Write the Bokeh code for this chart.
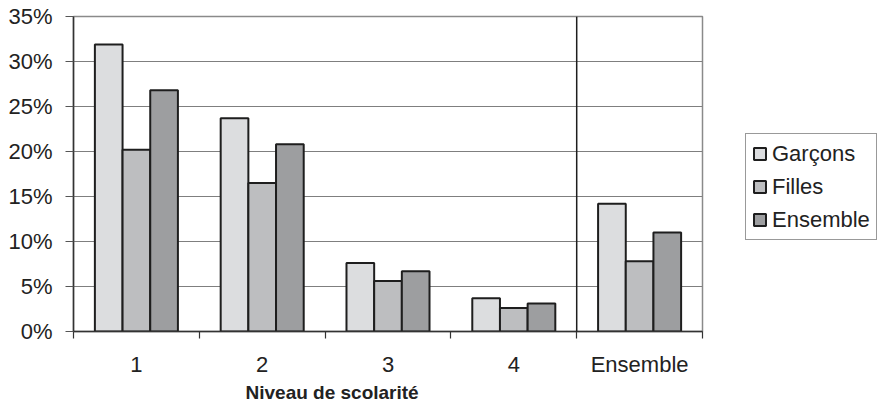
from bokeh.plotting import figure
from bokeh.models import (Range1d, FixedTicker, LinearAxis, PrintfTickFormatter, Span,
                          Legend, LegendItem, Title, ColumnDataSource)
from bokeh.embed import file_html
from bokeh.resources import INLINE

categories = ["1", "2", "3", "4", "Ensemble"]
garcons = [31.9, 23.7, 7.6, 3.7, 14.2]
filles = [20.2, 16.5, 5.6, 2.6, 7.8]
ensemble = [26.8, 20.8, 6.7, 3.1, 11.0]
series_names = ["Garçons", "Filles", "Ensemble"]
y_ticks = [0, 5, 10, 15, 20, 25, 30, 35]

FONT = "Liberation Sans"
colors = ["#dcdddf", "#bdbec0", "#9d9ea0"]

n = len(categories)
centers = [i + 0.5 for i in range(n)]
bounds = list(range(n + 1))

p = figure(frame_width=629, frame_height=315, output_backend="svg", toolbar_location=None,
           x_range=Range1d(0, n), y_range=Range1d(0, 35), x_axis_type=None,
           min_border_left=73, min_border_right=178, min_border_top=16, min_border_bottom=70,
           background_fill_color="white", border_fill_color="white")

p.outline_line_color = "#8a8a8a"
p.outline_line_width = 1.5
p.xgrid.visible = False
p.ygrid.ticker = FixedTicker(ticks=y_ticks)
p.ygrid.grid_line_color = "#7f7f7f"
p.ygrid.grid_line_width = 1.2

yax = p.yaxis[0]
yax.ticker = FixedTicker(ticks=y_ticks)
yax.formatter = PrintfTickFormatter(format="%d%%")
yax.major_label_text_font = FONT
yax.major_label_text_font_size = "22px"
yax.major_label_text_color = "#222222"
yax.major_label_standoff = 13
yax.major_tick_out = 8
yax.major_tick_in = 0
yax.minor_tick_line_color = None
yax.axis_line_color = "#333333"
yax.axis_line_width = 1.5
yax.major_tick_line_color = "#555555"

# axis with boundary ticks (no labels)
ax1 = LinearAxis(ticker=FixedTicker(ticks=bounds))
ax1.major_label_overrides = {b: "" for b in bounds}
ax1.major_label_text_font_size = "1px"
ax1.major_label_standoff = 0
ax1.major_tick_out = 7
ax1.major_tick_in = 0
ax1.minor_tick_line_color = None
ax1.axis_line_color = "#333333"
ax1.axis_line_width = 1.5
ax1.major_tick_line_color = "#333333"
ax1.major_tick_line_width = 1.2
p.add_layout(ax1, "below")

# axis with category labels
ax2 = LinearAxis(ticker=FixedTicker(ticks=centers))
ax2.major_label_overrides = {c: lab for c, lab in zip(centers, categories)}
ax2.major_label_text_font = FONT
ax2.major_label_text_font_size = "22px"
ax2.major_label_text_color = "#222222"
ax2.major_label_standoff = 13
ax2.major_tick_out = 0
ax2.major_tick_in = 0
ax2.major_tick_line_color = None
ax2.minor_tick_line_color = None
ax2.axis_line_color = None
p.add_layout(ax2, "below")

p.add_layout(Title(text="Niveau de scolarité", align="left", offset=172, standoff=0,
                   text_font=FONT, text_font_size="19px", text_font_style="bold",
                   text_color="#222222"), "below")

offsets = [-0.22, 0.0, 0.22]
renderers = []
for vals, off, col in zip([garcons, filles, ensemble], offsets, colors):
    src = ColumnDataSource(dict(x=[c + off for c in centers], top=vals))
    r = p.vbar(x="x", top="top", bottom=0, width=0.22, source=src,
               fill_color=col, line_color="#1e1e1e", line_width=2)
    renderers.append(r)

p.add_layout(Span(location=n - 1, dimension="height", line_color="#1e1e1e", line_width=1.5))

legend = Legend(items=[LegendItem(label=nm, renderers=[r]) for nm, r in zip(series_names, renderers)],
                location=(43, 91))
legend.label_text_font = FONT
legend.label_text_font_size = "22px"
legend.label_text_color = "#222222"
legend.glyph_width = 15
legend.glyph_height = 15
legend.label_standoff = 5
legend.label_height = 27
legend.spacing = 6
legend.padding = 6
legend.margin = 0
legend.border_line_color = "#333333"
legend.border_line_width = 1
legend.background_fill_color = "white"
p.add_layout(legend, "right")

open("out.html", "w").write(file_html(p, INLINE))
